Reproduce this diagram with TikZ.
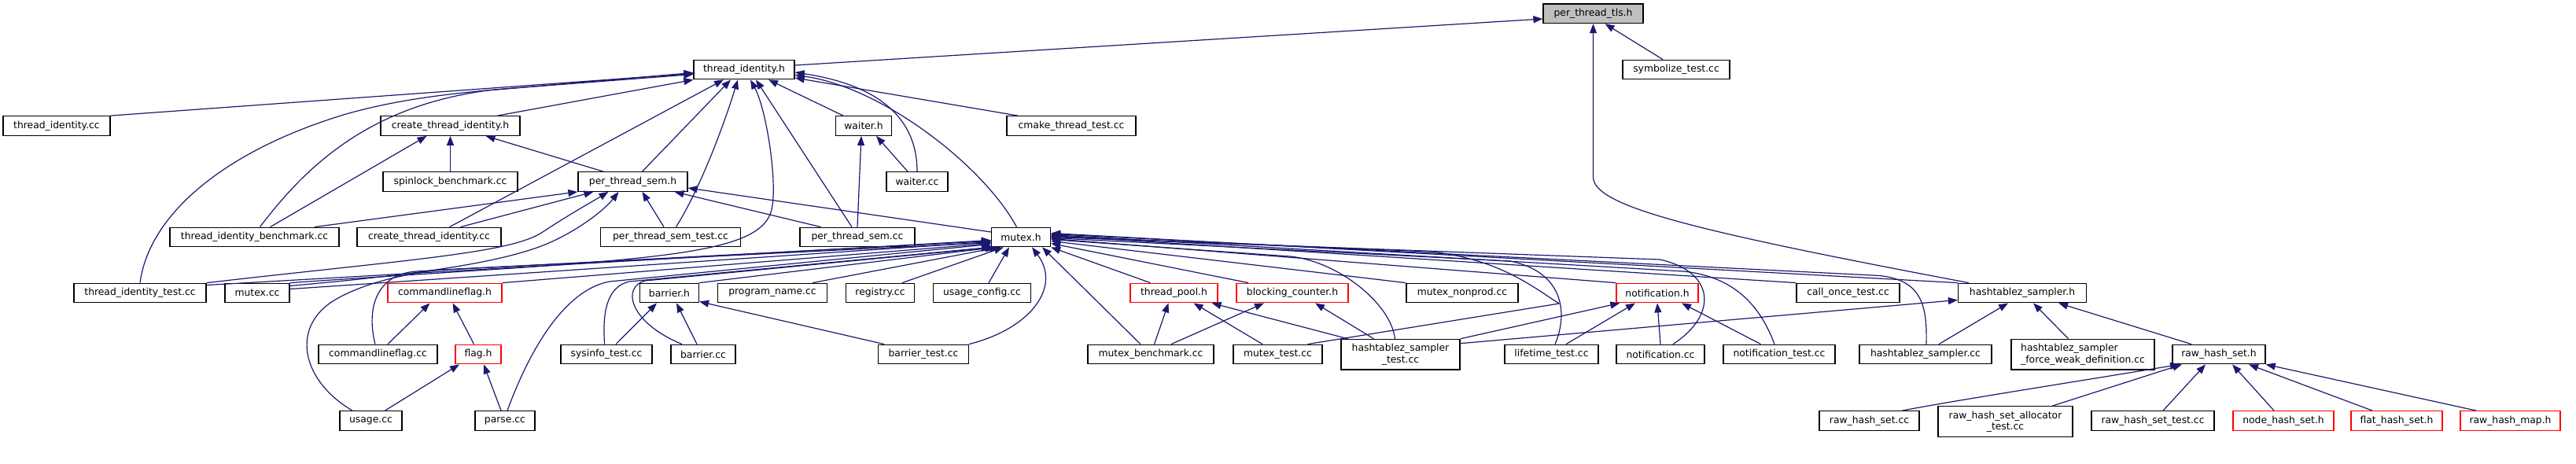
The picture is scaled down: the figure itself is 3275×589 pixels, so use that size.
\documentclass[tikz,border=0pt]{standalone}
\usepackage{fontspec}
\newfontfamily\dvs{DejaVu Sans}
\usetikzlibrary{arrows.meta}
\definecolor{edgecol}{HTML}{191970}
\definecolor{rootfill}{HTML}{BFBFBF}
\tikzset{
  box/.style={draw=black, line width=1.3pt, fill=white, inner sep=0pt,
    minimum height=24.5pt, font={\dvs\fontsize{12.35}{14.3}\selectfont}, align=center},
  rbox/.style={box, draw=red},
  tall/.style={minimum height=38.6pt},
  e/.style={draw=edgecol, line width=1.2pt, -{Triangle[length=12pt,width=9pt]}},
}
\begin{document}
\begin{tikzpicture}[x=1pt,y=-1pt]
\useasboundingbox (0,0) rectangle (3275,589);
% row 0
\node[box,fill=rootfill,minimum width=127pt] (ptls) at (2025.5,17.3) {per\_thread\_tls.h};
% row 1
\node[box,minimum width=128pt] (tih) at (946,88.5) {thread\_identity.h};
\node[box,minimum width=136pt] (sym) at (2131,88.5) {symbolize\_test.cc};
% row 2
\node[box,minimum width=136pt] (ticc) at (72,160) {thread\_identity.cc};
\node[box,minimum width=177pt] (ctih) at (572.5,160) {create\_thread\_identity.h};
\node[box,minimum width=71pt] (wh) at (1098,160) {waiter.h};
\node[box,minimum width=164pt] (cmake) at (1362,160) {cmake\_thread\_test.cc};
% row 3
\node[box,minimum width=171pt] (sb) at (572.5,231) {spinlock\_benchmark.cc};
\node[box,minimum width=139pt] (pts) at (804.5,231) {per\_thread\_sem.h};
\node[box,minimum width=78pt] (wcc) at (1166,231) {waiter.cc};
% row 4
\node[box,minimum width=215pt] (tibm) at (323.5,301.5) {thread\_identity\_benchmark.cc};
\node[box,minimum width=183pt] (ctic) at (545.5,301.5) {create\_thread\_identity.cc};
\node[box,minimum width=178pt] (ptst) at (852.5,301.5) {per\_thread\_sem\_test.cc};
\node[box,minimum width=146pt] (ptsc) at (1090,301.5) {per\_thread\_sem.cc};
\node[box,minimum width=75pt] (mh) at (1298,301.5) {mutex.h};
% row 5
\node[box,minimum width=168pt] (titest) at (178,372.5) {thread\_identity\_test.cc};
\node[box,minimum width=82pt] (mcc) at (327,372.5) {mutex.cc};
\node[rbox,minimum width=145pt] (clfh) at (565.5,372.5) {commandlineflag.h};
\node[box,minimum width=75pt] (bh) at (851,372.5) {barrier.h};
\node[box,minimum width=139pt] (pn) at (982,372.5) {program\_name.cc};
\node[box,minimum width=87pt] (reg) at (1119,372.5) {registry.cc};
\node[box,minimum width=124pt] (ucfg) at (1248.5,372.5) {usage\_config.cc};
\node[rbox,minimum width=111pt] (tph) at (1492.5,372.5) {thread\_pool.h};
\node[rbox,minimum width=142pt] (bch) at (1643,372.5) {blocking\_counter.h};
\node[box,minimum width=142pt] (mnp) at (1859,372.5) {mutex\_nonprod.cc};
\node[rbox,minimum width=104pt] (nh) at (2107,372.5) {notification.h};
\node[box,minimum width=131pt] (cot) at (2349.5,372.5) {call\_once\_test.cc};
\node[box,minimum width=163pt] (hzh) at (2571,372.5) {hashtablez\_sampler.h};
% row 6
\node[box,minimum width=151pt] (clfcc) at (480.5,450.5) {commandlineflag.cc};
\node[rbox,minimum width=58pt] (flagh) at (608,450.5) {flag.h};
\node[box,minimum width=116pt] (sys) at (771,450.5) {sysinfo\_test.cc};
\node[box,minimum width=82pt] (bcc) at (894,450.5) {barrier.cc};
\node[box,minimum width=115pt] (btest) at (1174,450.5) {barrier\_test.cc};
\node[box,minimum width=160pt] (mbm) at (1463,450.5) {mutex\_benchmark.cc};
\node[box,minimum width=113pt] (mtest) at (1624.5,450.5) {mutex\_test.cc};
\node[box,tall,minimum width=151pt] (hzst) at (1780.5,450.7) {hashtablez\_sampler\\\_test.cc};
\node[box,minimum width=119pt] (ltt) at (1972.5,450.5) {lifetime\_test.cc};
\node[box,minimum width=112pt] (ncc) at (2111,450.5) {notification.cc};
\node[box,minimum width=142pt] (ntest) at (2262,450.5) {notification\_test.cc};
\node[box,minimum width=168pt] (hzcc) at (2448,450.5) {hashtablez\_sampler.cc};
\node[box,tall,align=left,minimum width=182pt] (fwd) at (2648,450.7) {hashtablez\_sampler\\\_force\_weak\_definition.cc};
\node[box,minimum width=118pt] (rhsh) at (2821,450.5) {raw\_hash\_set.h};
% row 7
\node[box,minimum width=79pt] (usage) at (471.5,535) {usage.cc};
\node[box,minimum width=76pt] (parse) at (642,535) {parse.cc};
\node[box,minimum width=127pt] (rhscc) at (2376.5,535) {raw\_hash\_set.cc};
\node[box,tall,minimum width=171pt] (rhsat) at (2549.5,536) {raw\_hash\_set\_allocator\\\_test.cc};
\node[box,minimum width=156pt] (rhst) at (2737,535) {raw\_hash\_set\_test.cc};
\node[rbox,minimum width=128pt] (nhs) at (2903,535) {node\_hash\_set.h};
\node[rbox,minimum width=116pt] (fhs) at (3047,535) {flat\_hash\_set.h};
\node[rbox,minimum width=127pt] (rhm) at (3191.5,535) {raw\_hash\_map.h};

% ---- edges to per_thread_tls.h
\draw[e] ([yshift=5.5pt]tih.east) -- ([yshift=-6.7pt]ptls.west);
\draw[e] ([xshift=-17pt]sym.north) -- ([xshift=15pt]ptls.south);
\draw[e] ([xshift=-68pt]hzh.north) .. controls (2150,293) and (2025.5,262) .. (2025.5,225) -- (ptls.south);
% ---- edges to thread_identity.h
\draw[e] (ticc.north east) -- ([yshift=-5pt]tih.west);
\draw[e] ([xshift=60pt]ctih.north) -- (tih.south west);
\draw[e] ([xshift=7pt]tibm.north) .. controls (390,210) and (470,135) .. (620,115) -- ([yshift=-4pt]tih.west);
\draw[e] (titest.north) .. controls (190,270) and (290,190) .. (440,145) .. controls (500,128) and (560,120) .. (640,113) -- ([yshift=-6pt]tih.west);
\draw[e] ([xshift=26pt]ctic.north) -- ([xshift=-26pt]tih.south);
\draw[e] ([xshift=12pt]pts.north) -- ([xshift=-17pt]tih.south);
\draw[e] ([xshift=7pt]ptst.north) .. controls (890,240) and (920,160) .. ([xshift=-8pt]tih.south);
\draw[e] (mcc.north east) .. controls (800,330) and (960,330) .. (980,270) .. controls (990,240) and (975,140) .. ([xshift=8pt]tih.south);
\draw[e] ([xshift=-7pt]ptsc.north) -- ([xshift=15pt]tih.south);
\draw[e] ([xshift=-26pt]wh.north) -- ([xshift=31pt]tih.south);
\draw[e] (wcc.north) .. controls (1166,160) and (1130,110) .. ([yshift=-3.5pt]tih.east);
\draw[e] ([xshift=-5.5pt]mh.north) .. controls (1250,210) and (1120,110) .. ([yshift=-7pt]tih.east);
\draw[e] ([xshift=-68pt]cmake.north) -- ([yshift=-10.5pt]tih.east);
% ---- create_thread_identity.h
\draw[e] ([xshift=20pt]tibm.north) -- ([xshift=-30pt]ctih.south);
\draw[e] (sb.north) -- (ctih.south);
\draw[e] ([xshift=-37.5pt]pts.north) -- ([xshift=45pt]ctih.south);
% ---- per_thread_sem.h
\draw[e] ([xshift=76.5pt]tibm.north) -- (pts.south west);
\draw[e] ([xshift=40pt]ctic.north) -- ([xshift=-50pt]pts.south);
\draw[e] (titest.north east) .. controls (520,330) and (650,322) .. (690,295) .. controls (720,275) and (750,258) .. ([xshift=-31pt]pts.south);
\draw[e] ([yshift=9pt]mcc.east) .. controls (520,350) and (640,335) .. (700,308) .. controls (740,290) and (770,265) .. ([xshift=-18pt]pts.south);
\draw[e] ([xshift=-8.5pt]ptst.north) -- ([xshift=12pt]pts.south);
\draw[e] ([xshift=-46.5pt]ptsc.north) -- ([xshift=53pt]pts.south);
\draw[e] ([yshift=6.5pt]mh.west) -- ([yshift=-8pt]pts.east);
% ---- waiter.h
\draw[e] (ptsc.north) -- ([xshift=-3pt]wh.south);
\draw[e] ([xshift=-12pt]wcc.north) -- ([xshift=16pt]wh.south);
% ---- commandlineflag.h / flag.h
\draw[e] ([xshift=12.5pt]clfcc.north) -- ([xshift=-19pt]clfh.south);
\draw[e] ([xshift=-5.5pt]flagh.north) -- ([xshift=10pt]clfh.south);
\draw[e] ([xshift=18pt]usage.north) -- ([xshift=-24pt]flagh.south);
\draw[e] ([xshift=-5pt]parse.north) -- ([xshift=7pt]flagh.south);
% ---- barrier.h
\draw[e] ([xshift=12pt]sys.north) -- ([xshift=-16pt]bh.south);
\draw[e] ([xshift=-8pt]bcc.north) -- ([xshift=9pt]bh.south);
\draw[e] ([xshift=-50pt]btest.north) -- ([yshift=-11pt]bh.east);
% ---- mutex.h from the left
\draw[e] ([yshift=10pt]titest.east) -- ([yshift=-4pt]mh.west);
\draw[e] ([yshift=5pt]mcc.east) -- ([yshift=-6pt]mh.west);
\draw[e] (clfh.north east) -- ([yshift=-8pt]mh.west);
\draw[e] ([xshift=-3.5pt]clfcc.north) .. controls (465,390) and (480,348) .. (530,345) -- ([yshift=-5pt]mh.west);
\draw[e] ([xshift=-23.5pt]usage.north) .. controls (385,485) and (370,420) .. (420,385) .. controls (450,365) and (500,350) .. (560,343) -- ([yshift=-7pt]mh.west);
\draw[e] ([xshift=3pt]parse.north) .. controls (675,440) and (720,368) .. (775,358) -- ([yshift=-9pt]mh.west);
\draw[e] ([xshift=-2.4pt]sys.north) .. controls (766,400) and (770,365) .. (800,358) -- (mh.south west);
\draw[e] ([xshift=-27pt]bcc.north) .. controls (800,410) and (790,365) .. (820,357) -- ([xshift=4pt]mh.south west);
\draw[e] (bh.north east) -- ([xshift=6pt]mh.south west);
\draw[e] ([xshift=51pt]pn.north) -- ([xshift=10pt]mh.south west);
\draw[e] ([xshift=28pt]reg.north) -- ([xshift=16pt]mh.south west);
\draw[e] ([xshift=8.5pt]ucfg.north) -- ([xshift=-15pt]mh.south);
\draw[e] ([xshift=58pt]btest.north) .. controls (1310,418) and (1350,365) .. ([xshift=14pt]mh.south);
% ---- mutex.h from the right
\draw[e] ([xshift=-13pt]mbm.north) -- ([xshift=27pt]mh.south);
\draw[e] ([xshift=-30pt]tph.north) -- (mh.south east);
\draw[e] ([xshift=-56pt]bch.north) -- ([yshift=-8pt]mh.east);
\draw[e] (mnp.north west) -- ([yshift=-5pt]mh.east);
\draw[e] (nh.north west) -- ([yshift=-2pt]mh.east);
\draw[e] (cot.north west) -- ([yshift=2pt]mh.east);
\draw[e] (hzh.north west) -- ([yshift=5pt]mh.east);
\draw[e] ([xshift=-7pt]hzst.north) .. controls (1768,385) and (1700,332) .. (1640,326) -- ([yshift=-3pt]mh.east);
\draw[e] ([xshift=4.5pt]ltt.north) .. controls (1995,395) and (1985,345) .. (1920,332) -- ([yshift=-1pt]mh.east);
\draw[e] ([xshift=38pt]mtest.north) -- (1982,386) .. controls (1945,362) and (1905,330) .. (1820,320) -- ([yshift=1pt]mh.east);
\draw[e] ([xshift=16pt]ncc.north) .. controls (2185,400) and (2180,345) .. (2110,330) -- (mh.east);
\draw[e] ([xshift=-6pt]ntest.north) .. controls (2240,395) and (2210,352) .. (2140,345) -- ([yshift=3pt]mh.east);
\draw[e] ([xshift=1pt]hzcc.north) .. controls (2450,390) and (2445,352) .. (2380,350) -- ([yshift=4pt]mh.east);
% ---- thread_pool.h / blocking_counter.h
\draw[e] ([xshift=4.5pt]mbm.north) -- ([xshift=-7pt]tph.south);
\draw[e] ([xshift=-19.5pt]mtest.north) -- ([xshift=25pt]tph.south);
\draw[e] ([xshift=-67pt]hzst.north) -- ([xshift=48pt]tph.south);
\draw[e] ([xshift=26pt]mbm.north) -- ([xshift=-36pt]bch.south);
\draw[e] ([xshift=-34pt]hzst.north) -- ([xshift=29pt]bch.south);
% ---- notification.h
\draw[e] (hzst.north east) -- ([xshift=5pt]nh.south west);
\draw[e] ([xshift=18.5pt]ltt.north) -- ([xshift=-28pt]nh.south);
\draw[e] (ncc.north) -- (nh.south);
\draw[e] ([xshift=-23.5pt]ntest.north) -- ([xshift=31pt]nh.south);
% ---- hashtablez_sampler.h
\draw[e] ([yshift=14pt]hzst.east) -- ([yshift=-9pt]hzh.west);
\draw[e] ([xshift=17pt]hzcc.north) -- ([xshift=-18pt]hzh.south);
\draw[e] ([xshift=-18.4pt]fwd.north) -- ([xshift=14pt]hzh.south);
\draw[e] ([xshift=-35pt]rhsh.north) -- ([xshift=46pt]hzh.south);
% ---- raw_hash_set.h
\draw[e] ([xshift=42pt]rhscc.north) .. controls (2480,510) and (2660,482) .. ([xshift=-50pt]rhsh.south);
\draw[e] ([xshift=60pt]rhsat.north) -- ([xshift=-47pt]rhsh.south);
\draw[e] ([xshift=13pt]rhst.north) -- ([xshift=-17pt]rhsh.south);
\draw[e] ([xshift=-12pt]nhs.north) -- ([xshift=17pt]rhsh.south);
\draw[e] ([xshift=-31pt]fhs.north) -- ([xshift=38pt]rhsh.south);
\draw[e] ([xshift=-43.5pt]rhm.north) -- (rhsh.south east);
\end{tikzpicture}
\end{document}
